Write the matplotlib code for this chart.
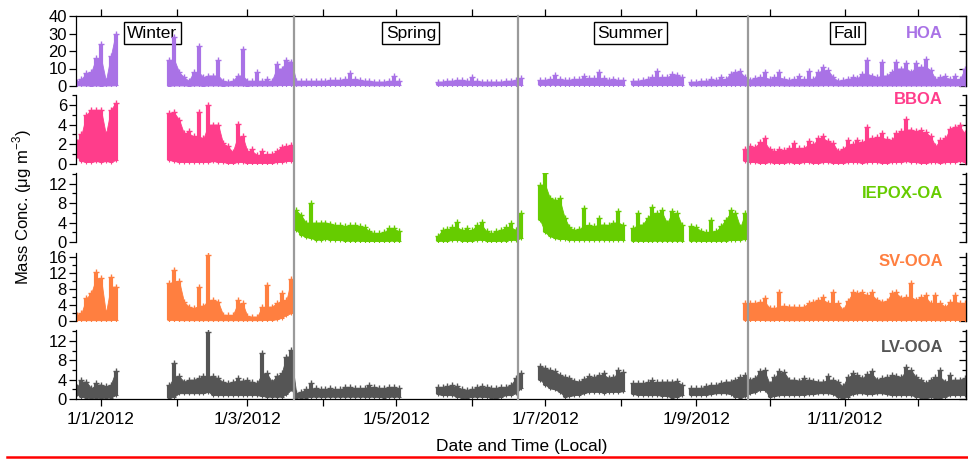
import numpy as np
import pandas as pd
import matplotlib
matplotlib.use('Agg')
import matplotlib.pyplot as plt
import matplotlib.dates as mdates
from matplotlib.lines import Line2D
from matplotlib.ticker import MultipleLocator, FuncFormatter
from matplotlib.transforms import blended_transform_factory

plt.rcParams['font.family'] = ['Liberation Sans', 'DejaVu Sans']

# values are read per 2-day bin, bin 0 = 22/12/2011
bin_start = pd.Timestamp('2011-12-22')
bin_days = 2

# bins with data (first, last)
runs_all = [(0, 8), (19, 66), (74, 91), (95, 112), (114, 124), (126, 182)]
runs_cold = [(0, 8), (19, 44), (137, 182)]
runs_warm = [(45, 66), (74, 91), (95, 112), (114, 124), (126, 137)]

# HOA (upper / lower edge of the cloud, ug m-3)
hoa_hi = [2.5, 4, 7.5, 8, 16, 24, 3, 17, 30,
          15, 28, 8, 5, 3, 8, 23, 5, 6, 6, 15, 3, 2.5, 3, 6, 21, 3, 3, 8, 3,
          4, 3, 12.5, 10, 14.8, 14,
          3, 3, 3, 3, 3, 3, 3, 3.5, 3.5, 3.5, 4, 7.5, 4, 3.5, 3, 3, 2.5, 2.5,
          2.5, 3, 6, 3,
          2.5, 2.5, 3, 3, 3.5, 3.5, 3, 5, 3, 2.5, 2.5, 2.5, 2.5, 2.5, 3, 3, 3.5, 4.5,
          3.5, 3.5, 4, 6.5, 4, 3.5, 3.5, 4, 4, 5.5, 4.5, 4.5, 8, 4.5, 3.5, 4, 3.5, 3.5,
          3, 3, 3.5, 4, 5, 8.5, 5, 5, 7, 6.5, 5,
          2.5, 2.5, 3, 3, 4.2, 3.5, 5, 4, 7, 8,
          8.5, 5, 3.5, 4.5, 5, 8, 4, 5, 8, 4,
          3.5, 4, 6, 4, 8.5, 4, 8, 11, 9, 5,
          3, 3.5, 4, 5, 4.5, 7, 15, 6, 5, 14,
          6, 8, 14, 10, 13, 8, 13, 11, 15.4, 9,
          4, 5, 6, 4, 6, 4, 9.6]
hoa_lo = [0.5, 0.3, 0.3, 0.2, 0.3, 0.2, 0.3, 0.3, 0.4,
          0.2, 0.3, 0.3, 0.3, 0.2, 0.3, 0.3, 0.2, 0.3, 0.3, 0.3, 0.2, 0.3, 0.3, 0.3, 0.3,
          0.2, 0.3, 0.3, 0.3, 0.3, 0.3, 0.4, 0.5, 0.5, 0.6,
          0.4, 0.4, 0.5, 0.5, 0.5, 0.5, 0.6, 0.6, 0.5, 0.5, 0.5, 0.5, 0.5, 0.5, 0.5, 0.4,
          0.4, 0.4, 0.4, 0.5, 0.5, 0.5,
          0.4, 0.5, 0.5, 0.5, 0.5, 0.5, 0.5, 0.5, 0.5, 0.4, 0.4, 0.4, 0.5, 0.5, 0.5, 0.6, 0.6, 0.7,
          0.7, 0.7, 0.8, 0.8, 0.7, 0.6, 0.6, 0.6, 0.6, 0.6, 0.6, 0.6, 0.6, 0.6, 0.6, 0.6, 0.6, 0.6,
          0.5, 0.5, 0.5, 0.5, 0.5, 0.5, 0.5, 0.5, 0.5, 0.5, 0.5,
          0.4, 0.4, 0.4, 0.4, 0.4, 0.4, 0.5, 0.5, 0.5, 0.5,
          0.5, 0.4, 0.4, 0.4, 0.4, 0.4, 0.4, 0.4, 0.4, 0.3,
          0.3, 0.3, 0.3, 0.3, 0.3, 0.3, 0.3, 0.4, 0.4, 0.4,
          0.3, 0.3, 0.3, 0.3, 0.3, 0.3, 0.3, 0.3, 0.3, 0.3,
          0.3, 0.3, 0.3, 0.3, 0.3, 0.3, 0.3, 0.3, 0.3, 0.3,
          0.3, 0.3, 0.3, 0.3, 0.3, 0.3, 0.3]

# BBOA
bboa_hi = [2.2, 3, 5, 5.5, 5.5, 5.5, 3, 5.5, 6.2,
           5.2, 5.3, 4.5, 3.1, 3.3, 2.8, 5.3, 2.6, 6, 4, 4, 2.1, 1.8, 1.2, 4.1, 2.8,
           1.3, 1.5, 0.9, 1.3, 1.0, 1.0, 1.3, 1.7, 1.8, 1.9,
           1.5, 1.8, 1.7, 2.2, 2.6, 1.5, 1.3, 1.5, 1.4, 1.6,
           2.1, 1.6, 1.6, 2.3, 2.0, 2.6, 2.8, 2.3, 2.1, 1.3,
           1.5, 2.4, 2.0, 2.4, 2.2, 3.8, 2.6, 2.7, 3.1, 2.5,
           2.4, 3.1, 3.3, 4.6, 3.5, 3.3, 3.5, 3.2, 2.8, 1.8,
           2.4, 2.6, 3.6, 3.8, 4.0, 3.1]
bboa_lo = [0.8, 0.3, 0.2, 0.2, 0.3, 0.2, 0.3, 0.2, 0.4,
           0.4, 0.3, 0.2, 0.2, 0.2, 0.2, 0.2, 0.2, 0.2, 0.3, 0.2, 0.2, 0.1, 0.1, 0.2, 0.2,
           0.1, 0.1, 0.1, 0.1, 0.1, 0.1, 0.2, 0.2, 0.3, 0.3,
           0.3, 0.2, 0.2, 0.1, 0.1, 0.2, 0.1, 0.1, 0.1, 0.2,
           0.1, 0.1, 0.2, 0.2, 0.1, 0.1, 0.2, 0.2, 0.1, 0.1,
           0.1, 0.2, 0.2, 0.2, 0.1, 0.2, 0.2, 0.2, 0.1, 0.1,
           0.2, 0.2, 0.2, 0.3, 0.2, 0.2, 0.1, 0.1, 0.2, 0.2,
           0.1, 0.2, 0.2, 0.2, 0.3, 0.2]

# IEPOX-OA
iepox_hi = [6.5, 5.5, 4, 8, 4, 4, 4, 3.8, 3.5, 3.6, 3.2, 3.5, 3.6, 3.2, 3, 2.2,
            1.8, 1.8, 2.0, 2.9, 2.8, 2.2,
            1.2, 2.5, 2.6, 3, 4.2, 2.5, 2.9, 2.4, 3.5, 4.2, 2.2, 1.8, 2.2, 2.5, 3, 3.9, 2.5, 6,
            11.8, 14.2, 9, 8.7, 9, 5, 3, 2.5, 2.6, 7, 3.5, 3.2, 4.9, 3.6, 3.5, 4, 6.3, 3.5,
            2.8, 6, 3.6, 5, 7.3, 6, 6.6, 3.9, 6.3, 6, 3.5,
            3.2, 3, 2.2, 2, 4.6, 2.2, 3.2, 4.6, 6.6, 6, 3, 6]
iepox_lo = [2.5, 1.5, 1, 0.8, 0.5, 0.5, 0.6, 0.5, 0.4, 0.4, 0.3, 0.3, 0.3, 0.3, 0.2, 0.2,
            0.2, 0.2, 0.2, 0.3, 0.3, 0.3,
            0.2, 0.3, 0.3, 0.4, 0.5, 0.3, 0.2, 0.3, 0.4, 0.5, 0.3, 0.2, 0.2, 0.3, 0.3, 0.5, 0.4, 0.8,
            4.5, 2, 1.2, 0.8, 0.6, 0.6, 0.5, 0.4, 0.4, 0.5, 0.4, 0.4, 0.5, 0.5, 0.4, 0.4, 0.5, 0.4,
            0.3, 0.3, 0.2, 0.3, 0.3, 0.3, 0.3, 0.3, 0.3, 0.3, 0.3,
            0.3, 0.3, 0.2, 0.2, 0.3, 0.2, 0.3, 0.3, 0.4, 0.4, 0.5, 0.6]

# SV-OOA
svooa_hi = [1.5, 2, 5.7, 7, 12.3, 10.7, 2, 11, 8.6,
            9.4, 12.7, 10, 4.8, 3.6, 3.2, 8.6, 3.8, 16.5, 5.3, 4.8, 1.6, 1.5, 1.4, 5.3, 4.4,
            1.2, 1.1, 1.1, 3.5, 9, 3.6, 4.4, 6.9, 5.2, 10.5,
            4.4, 4.4, 4.5, 4.8, 5.7, 3.3, 3.2, 7.3, 3.8, 3.6,
            3.6, 3.4, 3.6, 4.4, 4.8, 5.3, 6.1, 4.5, 7.3, 4.5,
            2.8, 5, 7.3, 6.9, 7.3, 6.5, 7.3, 5.3, 4.8, 5,
            6.9, 7.3, 5.8, 6, 9.4, 5.3, 6, 6.5, 4.4, 6.5,
            4.5, 3.5, 4.8, 6.5, 4.5, 4.4]
svooa_lo = [0.3, 0.2, 0.2, 0.2, 0.2, 0.2, 0.2, 0.2, 0.3,
            0.3, 0.3, 0.2, 0.2, 0.2, 0.2, 0.2, 0.2, 0.2, 0.2, 0.2, 0.2, 0.2, 0.2, 0.2, 0.2,
            0.2, 0.2, 0.2, 0.2, 0.3, 0.3, 0.4, 0.8, 1.5, 2,
            0.3, 0.2, 0.3, 0.3, 0.2, 0.2, 0.2, 0.3, 0.2, 0.2,
            0.2, 0.2, 0.2, 0.3, 0.3, 0.3, 0.3, 0.2, 0.3, 0.2,
            0.2, 0.2, 0.3, 0.3, 0.3, 0.2, 0.3, 0.2, 0.2, 0.2,
            0.3, 0.3, 0.2, 0.2, 0.3, 0.3, 0.2, 0.2, 0.3, 0.2,
            0.2, 0.2, 0.3, 0.3, 0.2, 0.3]

# LV-OOA
lvooa_hi = [2.5, 4, 3.6, 2.2, 3.3, 3, 2.6, 3, 5.7,
            2.8, 7.4, 4.7, 3.6, 4, 4, 4.3, 4.7, 13.9, 4.7, 4.3, 3.5, 3.3, 3.6, 4.3, 3.8,
            4, 3.5, 3.3, 9.5, 5.3, 3.6, 4.7, 5.3, 8.8, 10.2,
            1.2, 1.5, 2, 3.3, 2.2, 2, 2, 2.2, 2, 2, 2.4, 2.5, 2.2, 2.2, 2.3, 2.9,
            2.5, 2.3, 2.2, 2.4, 2.4, 2.2,
            2.4, 2.4, 2.6, 2.9, 2.6, 2, 1.9, 2, 2.4, 2.6, 2.4, 2.3, 2.3, 2.5, 2.5, 2.9, 4.3, 5.3,
            6.8, 6.4, 6, 5.8, 5, 4.6, 4.3, 3.8, 3.6, 4.2, 4.7, 4.5, 5, 5.3, 4.4, 4.5, 6, 5.5,
            3.3, 3.3, 3.3, 3.5, 4, 3.5, 3.6, 3.6, 3.6, 3.8, 3,
            2.2, 2.2, 2.3, 2.6, 2.9, 2.9, 3.3, 3.6, 3.6, 4.0,
            4.5, 5.0, 4.0, 4.3, 5.7, 6.0, 3.2, 4.5, 5.7, 5.5,
            4.0, 4.0, 3.8, 4.3, 4.0, 3.8, 3.6, 3.6, 4.7, 4.0,
            3.6, 2.6, 4.5, 5.3, 5.0, 4.3, 5.2, 5.7, 4.0, 4.3,
            4.5, 5.0, 4.8, 4.5, 6.7, 6.0, 4.5, 4.0, 3.3, 4.0,
            4.5, 6.0, 3.6, 5.0, 4.0, 4.0, 4.3]
lvooa_lo = [1, 0.5, 0.3, 0.2, 0.3, 0.2, 0.3, 0.3, 0.8,
            0.2, 0.5, 1.2, 1.2, 1.2, 1.2, 1.2, 1.2, 1.5, 0.8, 0.8, 0.8, 0.8, 0.8, 0.8, 0.8,
            0.8, 0.8, 0.8, 0.6, 0.5, 0.5, 0.5, 0.5, 1, 2,
            0.3, 0.3, 0.3, 0.5, 0.5, 0.5, 0.5, 0.5, 0.5, 0.5, 0.5, 0.5, 0.5, 0.5, 0.5, 0.5,
            0.5, 0.4, 0.3, 0.5, 0.5, 0.5,
            1, 0.8, 0.8, 0.8, 0.5, 0.2, 0.2, 0.5, 0.5, 0.5, 0.4, 0.3, 0.1, 0.5, 0.8, 0.8, 1.2, 2.2,
            4, 3, 2.2, 2, 1.5, 0.5, 0.6, 0.8, 0.9, 1.2, 1.5, 1.5, 1.5, 1.3, 1.5, 1.5, 1.5, 1.6,
            1, 0.9, 0.8, 0.8, 0.8, 0.8, 0.7, 0.6, 0.3, 0.4, 0.8,
            0.8, 0.8, 0.8, 0.9, 1.0, 1.2, 1.2, 1.2, 1.0, 0.5,
            0.2, 0.6, 1.2, 1.4, 1.9, 1.9, 0.5, 0.6, 0.8, 0.8,
            0.8, 0.8, 0.8, 0.9, 1.0, 1.0, 1.2, 1.2, 1.2, 1.0,
            0.4, 0.1, 0.5, 1.0, 1.2, 1.2, 1.0, 1.0, 1.2, 1.2,
            1.0, 0.8, 0.8, 0.8, 0.8, 0.8, 0.5, 0.3, 0.1, 0.4,
            0.2, 0.2, 0.5, 0.8, 0.8, 0.8, 0.8]

names = ['HOA', 'BBOA', 'IEPOX-OA', 'SV-OOA', 'LV-OOA']
colors = ['#A972E6', '#FF3D8B', '#66CC00', '#FF7F40', '#555555']
seasons = ['Winter', 'Spring', 'Summer', 'Fall']
season_mid = ['2012-01-22', '2012-05-07', '2012-08-05', '2012-11-02']
season_edges = ['2012-03-20', '2012-06-20', '2012-09-22']

series = [(runs_all, hoa_hi, hoa_lo), (runs_cold, bboa_hi, bboa_lo),
          (runs_warm, iepox_hi, iepox_lo), (runs_cold, svooa_hi, svooa_lo),
          (runs_all, lvooa_hi, lvooa_lo)]
ylims = [40, 7, 14.2, 17, 14.3]
major = [10, 2, 4, 4, 4]
minor = [10, 1, 2, 2, 2]


def draw_cloud(ax, runs, hi, lo, color):
    n_total = sum(b - a + 1 for a, b in runs)
    assert len(hi) == n_total and len(lo) == n_total, (len(hi), len(lo), n_total)
    i = 0
    for a, b in runs:
        n = b - a + 1
        t = bin_start + pd.to_timedelta(np.arange(a, b + 1) * bin_days, unit='D')
        h = np.array(hi[i:i + n], float)
        l = np.array(lo[i:i + n], float)
        # body of the cloud: a bin only rises above its neighbours as a plume
        left = np.r_[h[:1], h[:-1]]
        right = np.r_[h[1:], h[-1:]]
        body = np.minimum(h, np.maximum(np.maximum(left, right), l))
        if n == 1:
            body = h
        ax.fill_between(t, l, body, color=color, lw=0.6, zorder=2)
        ax.vlines(t, l, h, color=color, lw=3.0, zorder=2)
        ax.plot(t, h, '+', color=color, ms=4.5, mew=1.0, zorder=2)
        ax.plot(t, l, '+', color=color, ms=3, mew=0.8, zorder=2)
        i += n


W, H = 968, 462
fig = plt.figure(figsize=(W / 100, H / 100), dpi=100)
panel_px = [(16, 86), (95, 164), (173, 242), (253, 321), (330, 399)]
x_left, x_right = 76, 966
xlim = (pd.Timestamp('2011-12-21 18:00'), pd.Timestamp('2012-12-20 12:00'))

axes = []
for p, (top, bot) in enumerate(panel_px):
    ax = fig.add_axes([x_left / W, 1 - bot / H, (x_right - x_left) / W, (bot - top) / H])
    runs, hi, lo = series[p]
    draw_cloud(ax, runs, hi, lo, colors[p])
    ax.set_xlim(*xlim)
    ax.set_ylim(0, ylims[p])
    ax.yaxis.set_major_locator(MultipleLocator(major[p]))
    ax.yaxis.set_minor_locator(MultipleLocator(minor[p]))
    ax.tick_params(axis='y', which='major', direction='out', length=5, width=0.9,
                   labelsize=12, pad=1.5)
    ax.tick_params(axis='y', which='minor', direction='out', length=3, width=0.9)
    for s in ax.spines.values():
        s.set_linewidth(0.9)
    sec = ax.secondary_yaxis('right')
    sec.yaxis.set_major_locator(MultipleLocator(major[p]))
    sec.yaxis.set_minor_locator(MultipleLocator(minor[p]))
    sec.tick_params(which='major', direction='in', length=5, width=0.9, labelright=False)
    sec.tick_params(which='minor', direction='in', length=3, width=0.9)
    sec.spines['right'].set_linewidth(0.9)

    ax.xaxis.set_major_locator(mdates.MonthLocator(bymonth=[1, 3, 5, 7, 9, 11]))
    ax.xaxis.set_minor_locator(mdates.MonthLocator())
    ax.xaxis.set_major_formatter(FuncFormatter(
        lambda v, pos: '1/%d/%d' % (mdates.num2date(v).month, mdates.num2date(v).year)))
    ax.spines['top'].set_visible(p == 0)
    ax.spines['bottom'].set_visible(p == 4)
    if p == 0:
        ax.xaxis.set_ticks_position('top')
        ax.tick_params(axis='x', which='both', direction='out', length=5, width=0.9,
                       labeltop=False)
    elif p == 4:
        ax.tick_params(axis='x', which='both', direction='out', length=5, width=0.9,
                       labelsize=12.5, pad=4)
    else:
        ax.tick_params(axis='x', which='both', bottom=False, top=False,
                       labelbottom=False)
    ax.patch.set_alpha(0)
    axes.append(ax)

# species labels
label_y = [34, 100, 193, 261, 347]
for p in range(5):
    fig.text(943 / W, 1 - label_y[p] / H, names[p], color=colors[p], fontsize=12,
             fontweight='bold', ha='right', va='center')

# season boxes and boundaries
trans_top = axes[0].get_xaxis_transform()
for name, mid in zip(seasons, season_mid):
    axes[0].text(pd.Timestamp(mid), 0.757, name, transform=trans_top, ha='center',
                 va='center', fontsize=12.5, zorder=1,
                 bbox=dict(boxstyle='square,pad=0.2', fc='white', ec='black', lw=1))
trans_line = blended_transform_factory(axes[4].transData, fig.transFigure)
for edge in season_edges:
    xd = mdates.date2num(pd.Timestamp(edge))
    fig.add_artist(Line2D([xd, xd], [1 - 399 / H, 1 - 16 / H], transform=trans_line,
                          color='#9a9a9a', lw=1.6, zorder=3))

fig.text(22 / W, 1 - 207 / H, r'Mass Conc. ($\mathregular{\mu}$g m$^{\mathregular{-3}}$)',
         rotation=90, ha='center', va='center', fontsize=12)
fig.text(522 / W, 1 - 447 / H, 'Date and Time (Local)', ha='center', va='center',
         fontsize=12.5)
fig.add_artist(Line2D([7 / W, 1], [1 - 457 / H, 1 - 457 / H], color='red', lw=1.8))

fig.savefig('out.png', dpi=100)
